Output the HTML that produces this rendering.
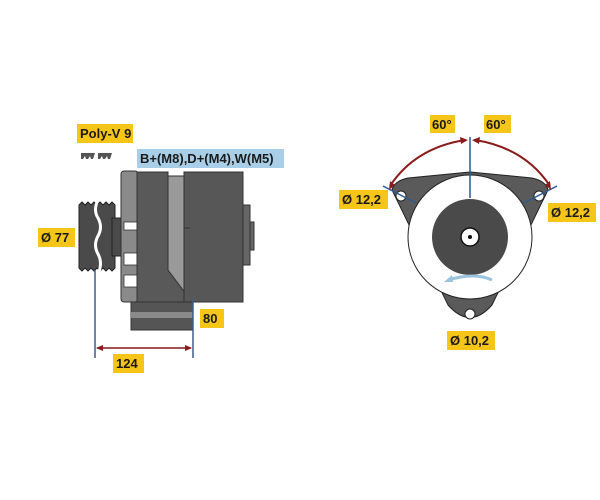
<!DOCTYPE html>
<html><head><style>
body{margin:0;background:#fff;}
svg{display:block}
text{font-family:"Liberation Sans",sans-serif;font-weight:bold;font-size:13px;fill:#1a1a1a}
</style></head><body>
<svg width="600" height="500" viewBox="0 0 600 500">
<rect x="77" y="124" width="56" height="19" fill="#f5c518"/>
<text x="80" y="138">Poly-V 9</text>
<path d="M81,153 h14 l-2,6 h-2 l-1,-3 l-2,3 h-2 l-1,-3 l-2,3 h-2z M98,153 h14 l-2,6 h-2 l-1,-3 l-2,3 h-2 l-1,-3 l-2,3 h-2z" fill="#555"/>
<rect x="137" y="149" width="147" height="19" fill="#a9cfe8"/>
<text x="140" y="163">B+(M8),D+(M4),W(M5)</text>
<path d="M79,205 l3,-3 l3,3 l3,-3 l3,3 l3,-3 l3,3 l3,-3 l3,3 l3,-3 l3,3 l3,-3 l3,3 V268 l-3,3 l-3,-3 l-3,3 l-3,-3 l-3,3 l-3,-3 l-3,3 l-3,-3 l-3,3 l-3,-3 l-3,3 l-3,-3z" fill="#4a4a4a" stroke="#222" stroke-width="1"/>
<path d="M98,200 q-5,10 0,18 q5,9 0,18 q-5,9 0,18 q5,9 0,20" fill="none" stroke="#fff" stroke-width="3"/>
<rect x="112" y="218" width="9" height="38" fill="#4a4a4a" stroke="#222"/>
<rect x="121" y="171" width="17" height="131" rx="3" fill="#8a8a8a" stroke="#333"/>
<g fill="#fff" stroke="#333" stroke-width="0.8">
<rect x="124" y="222" width="13" height="8"/><rect x="124" y="253" width="13" height="12"/><rect x="124" y="275" width="13" height="12"/>
</g>
<path d="M137,172 H168 V270 L192,302 H137Z" fill="#595959" stroke="#333"/>
<path d="M168,176 H184 V302 H192 L168,270Z" fill="#9a9a9a" stroke="#333"/>
<rect x="184" y="172" width="59" height="130" fill="#575757" stroke="#333"/>
<line x1="184" y1="228" x2="190" y2="228" stroke="#333"/>
<rect x="243" y="205" width="7" height="60" fill="#666" stroke="#333"/>
<rect x="250" y="222" width="4" height="28" fill="#666" stroke="#333"/>
<rect x="131" y="302" width="62" height="28" fill="#555" stroke="#333"/>
<rect x="131" y="312" width="62" height="6" fill="#8a8a8a"/>
<line x1="95" y1="270" x2="95" y2="358" stroke="#3a5f8f" stroke-width="1.5"/>
<line x1="193" y1="300" x2="193" y2="358" stroke="#3a5f8f" stroke-width="1.5"/>
<line x1="97" y1="348" x2="191" y2="348" stroke="#8b1a1a" stroke-width="1.5"/>
<path d="M96,348 l7,-3 v6z M192,348 l-7,-3 v6z" fill="#8b1a1a"/>
<rect x="38" y="228" width="37" height="19" fill="#f5c518"/>
<text x="41" y="242">Ø 77</text>
<rect x="200" y="309" width="24" height="19" fill="#f5c518"/>
<text x="203" y="323">80</text>
<rect x="113" y="354" width="31" height="19" fill="#f5c518"/>
<text x="116" y="368">124</text>
<path d="M392,190 Q394,181 408,178 L470,172 L532,178 Q546,181 548,190 L492,305 Q470,330 448,305Z" fill="#5a5a5a" stroke="#222"/>
<circle cx="470" cy="237" r="62" fill="#fff" stroke="#222"/>
<circle cx="470" cy="237" r="38" fill="#4a4a4a"/>
<circle cx="470" cy="237" r="9" fill="#fff" stroke="#111" stroke-width="1.5"/>
<circle cx="470" cy="237" r="2" fill="#111"/>
<circle cx="401" cy="196" r="5" fill="#fff" stroke="#222"/>
<circle cx="539" cy="196" r="5" fill="#fff" stroke="#222"/>
<circle cx="470" cy="314" r="5" fill="#fff" stroke="#222"/>
<path d="M492,280 Q475,272 448,280" fill="none" stroke="#9cc4df" stroke-width="3"/>
<path d="M444,282 l8,-7 l1,7z" fill="#9cc4df"/>
<line x1="470" y1="137" x2="470" y2="198" stroke="#2c5a8f" stroke-width="1.5"/>
<line x1="383" y1="186" x2="416" y2="203" stroke="#2c5a8f" stroke-width="1.5"/>
<line x1="557" y1="186" x2="524" y2="203" stroke="#2c5a8f" stroke-width="1.5"/>
<path d="M390,186 Q415,148 465,140" fill="none" stroke="#8b1a1a" stroke-width="2"/>
<path d="M475,140 Q525,148 550,186" fill="none" stroke="#8b1a1a" stroke-width="2"/>
<path d="M468,140 l-8,-3 l1,7z M472,140 l8,-3 l-1,7z M389,190 l1,-9 l5,4z M551,190 l-1,-9 l-5,4z" fill="#8b1a1a"/>
<rect x="430" y="115" width="25" height="18" fill="#f5c518"/>
<text x="432" y="129">60°</text>
<rect x="484" y="115" width="27" height="18" fill="#f5c518"/>
<text x="486" y="129">60°</text>
<rect x="339" y="190" width="49" height="19" fill="#f5c518"/>
<text x="342" y="204">Ø 12,2</text>
<rect x="548" y="203" width="48" height="19" fill="#f5c518"/>
<text x="551" y="217">Ø 12,2</text>
<rect x="447" y="331" width="48" height="19" fill="#f5c518"/>
<text x="450" y="345">Ø 10,2</text>
</svg>
</body></html>
